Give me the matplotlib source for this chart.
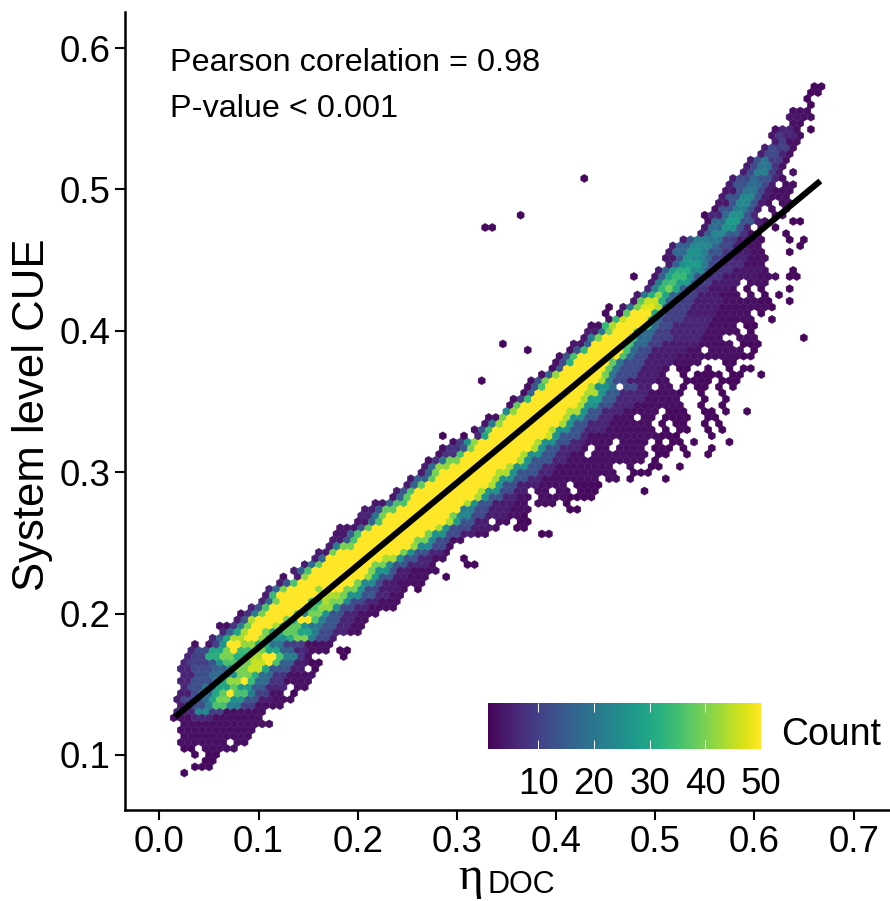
import math
import numpy as np
import matplotlib
matplotlib.use("Agg")
import matplotlib.pyplot as plt

plt.rcParams['font.family'] = ['Liberation Sans', 'DejaVu Sans']

# Hexagon rows, bottom to top. Each row: start, then (end, count) pairs.
# Edges are in units of 1/992 of eta; count 0 marks an empty stretch.
ROWS = [
[22,28,2],
[34,53,2],
[46,58,2],
[29,36,2,46,0,58,2],
[21,38,2,46,0,78,3],
[19,70,3,74,0,86,3],
[19,91,3],
[21,94,3],
[19,111,3],
[13,30,3,55,6,104,3],
[16,34,6,48,24,62,10,106,3],
[18,30,5,45,13,56,22,70,36,84,22,96,10,124,3],
[16,25,5,40,12,50,18,58,30,72,40,85,26,100,14,117,5,138,3],
[16,30,5,40,12,52,18,62,30,70,38,77,50,86,36,96,22,112,10,125,3,132,0,140,2],
[18,30,6,45,13,58,20,68,30,80,38,90,28,105,15,125,6,130,3,136,0,148,3],
[19,35,6,50,13,62,20,70,30,80,42,88,50,98,34,112,18,125,8,154,3],
[19,35,6,52,13,64,18,76,26,90,40,100,32,115,18,130,8,159,3],
[19,30,6,50,12,66,16,76,24,90,40,102,46,112,30,130,14,142,5,150,0,163,2],
[21,30,6,50,10,56,14,66,26,80,36,92,40,105,46,116,50,122,36,135,16,146,5,166,2],
[23,35,6,48,10,60,32,72,40,90,32,104,44,116,50,124,36,135,22,145,8,152,3,178,0,186,2],
[26,36,6,50,12,62,30,70,40,77,50,90,34,104,40,118,30,136,16,148,6,168,3,176,0,188,2],
[29,36,3,44,0,50,4,60,10,70,26,84,50,95,42,108,32,122,20,142,10,176,3],
[48,58,6,66,16,72,30,82,44,98,50,106,42,125,26,136,32,146,40,156,22,168,12,174,5],
[60,68,6,74,16,80,30,86,44,104,50,112,40,125,30,135,38,150,30,160,22,172,12,190,6,202,3],
[58,68,3,74,0,80,8,86,22,94,40,110,50,120,44,130,28,140,38,150,26,165,20,178,14,190,6,208,3],
[73,80,5,86,14,92,30,98,44,122,50,130,40,140,30,150,50,160,36,170,22,182,14,196,6,212,3],
[78,82,3,86,0,92,8,100,22,106,40,132,50,142,36,150,24,160,40,172,26,186,14,200,6,218,3],
[88,96,6,104,14,112,36,144,50,154,30,162,36,172,42,184,26,196,12,210,6,238,3],
[98,106,6,112,18,118,40,152,50,160,32,172,44,182,40,190,24,204,12,220,6,244,3],
[101,108,5,114,14,120,34,160,50,170,46,180,44,190,40,200,26,216,14,232,6,246,3],
[108,116,6,124,18,130,40,156,50,162,42,184,50,196,40,208,26,222,12,238,5,246,3,252,0,262,2],
[117,128,5,134,14,140,36,194,50,202,40,214,24,226,12,240,5,263,3],
[119,127,3,132,0,140,5,146,20,150,42,204,50,212,42,222,28,234,14,248,5,268,3,284,0,294,2],
[134,142,5,148,16,154,36,210,50,218,40,228,26,240,14,254,5,278,3],
[144,152,5,158,18,162,38,216,50,224,40,236,24,250,14,270,6,279,3,308,0,316,2],
[154,160,5,166,18,170,40,226,50,234,44,244,26,258,14,276,6,288,3,303,0,311,2],
[158,168,5,174,20,180,40,238,50,246,40,258,26,272,14,286,6,294,3],
[168,176,5,184,22,192,40,252,50,262,42,272,24,284,12,294,3],
[173,182,5,190,14,198,36,258,50,266,40,278,24,290,12,308,3],
[176,186,4,198,16,204,36,264,50,272,40,284,26,298,12,318,5,328,3,380,0,390,2],
[179,196,4,206,14,214,38,274,50,282,44,292,26,310,12,330,5,341,3,356,0,368,2],
[196,206,4,214,16,222,36,286,50,292,44,302,28,316,14,332,5,340,0,348,3,360,0,370,2],
[201,210,6,218,20,228,40,292,50,298,40,310,24,326,12,344,5,358,3,362,0,370,2],
[203,214,5,226,14,238,38,298,50,304,40,316,22,332,12,350,5,372,3,410,0,418,2],
[213,224,4,236,16,245,36,304,50,312,44,322,26,336,14,356,5,369,3,376,0,398,3,404,0,413,2],
[233,240,4,248,16,254,38,312,50,320,44,330,26,346,14,360,6,371,3,378,0,384,3,389,0,406,3,409,0,418,2,424,0,436,2],
[234,244,5,252,14,258,36,320,50,328,44,338,26,354,12,371,5,378,0,393,3,399,0,413,3,419,0,438,2,482,0,490,2],
[243,252,5,258,16,265,38,330,50,336,44,345,26,361,13,378,5,409,3,412,0,418,2,425,0,440,2],
[250,258,4,266,16,276,38,335,50,341,44,353,26,368,14,384,6,441,3,447,0,462,3,470,0,478,2,503,0,512,2],
[256,264,4,272,16,282,40,340,50,348,44,360,26,376,14,392,6,454,3,474,0,494,2],
[261,270,5,278,18,288,42,347,50,354,44,366,26,380,14,396,6,456,3,467,0,476,3,486,0,503,2,517,0,526,2],
[263,272,3,280,8,288,20,300,40,356,50,364,44,374,26,390,14,406,6,486,3,494,0,501,2],
[276,284,3,296,8,304,36,362,50,370,44,382,26,396,14,412,6,428,3,435,0,488,3,494,0,508,2,521,0,528,2,543,0,548,2],
[279,288,3,298,8,306,14,314,40,370,50,378,44,388,26,402,14,418,6,428,3,435,0,450,3,458,0,486,3,494,0,514,2,520,0,530,2,549,0,557,2],
[288,298,3,308,10,314,26,318,42,376,50,386,44,396,26,410,14,426,6,451,3,459,0,491,3,497,0,505,2,512,0,522,2,528,0,537,2,565,0,573,2],
[278,285,2,299,0,306,2,312,0,320,6,326,30,386,50,394,46,402,26,418,14,432,6,496,3,502,0,512,2,516,0,524,2,549,0,557,2],
[314,320,3,328,14,332,34,392,50,400,44,410,26,424,14,444,6,494,3,501,0,507,2,514,0,521,2,525,0,531,2,546,0,552,2,560,0,566,2],
[326,332,4,340,20,346,42,398,50,406,44,416,26,430,14,448,6,491,3,497,0,506,2,515,0,528,2,545,0,551,2,560,0,566,2],
[328,338,3,344,16,350,40,405,50,412,44,422,26,436,14,456,6,476,3,482,0,496,3,506,0,528,2,543,0,549,2,556,0,563,2],
[344,348,5,352,24,358,42,410,50,418,44,428,26,444,14,464,6,501,3,506,0,529,2,544,0,554,2,561,0,569,2,584,0,590,2],
[349,354,3,358,14,364,38,418,50,426,44,436,26,452,13,474,6,500,3,506,0,524,3,541,0,547,2,563,0,569,2],
[351,358,3,366,10,372,34,422,50,430,44,442,28,458,15,484,6,521,3,541,0,547,2,563,0,569,2],
[361,366,3,374,16,378,40,426,50,436,44,446,26,460,15,486,6,514,3,521,0,527,2,541,0,548,2,562,0,570,2],
[364,370,3,378,14,384,36,430,50,438,44,450,26,455,18,463,0,480,12,490,5,498,0,514,3,521,0,527,2,538,0,551,2,558,0,564,2,573,0,579,2],
[318,326,2,368,0,376,3,384,14,391,40,436,50,444,44,454,22,470,12,495,5,513,3,523,0,528,2,534,0,556,2,563,0,578,2],
[379,384,3,392,16,399,42,442,50,448,40,458,20,476,12,500,5,508,3,519,0,528,2,536,0,561,2,568,0,581,2,600,0,608,2],
[391,396,3,402,14,406,38,448,50,454,38,462,20,480,12,505,5,506,3,516,0,531,2,543,0,554,2,568,0,573,2,581,0,596,2],
[394,400,3,408,12,413,32,452,50,458,38,466,20,486,12,515,5,539,3,564,0,574,2],
[398,406,3,414,14,421,36,458,50,464,36,472,18,490,12,520,5,581,3,584,0,594,2],
[365,373,2,408,0,418,3,424,14,428,34,465,50,470,36,478,18,495,12,525,5,544,3,552,0,581,3,589,0,599,2],
[340,348,2,414,0,422,4,430,16,435,36,470,50,476,36,486,18,505,10,540,5,576,3,584,0,601,2],
[424,430,4,436,22,442,40,474,50,480,34,490,18,510,10,540,6,566,3,574,0,599,3,642,0,650,2],
[428,436,5,444,20,452,40,478,50,484,34,494,18,512,10,545,6,578,3,588,0,598,2],
[432,440,3,446,14,452,34,458,44,484,50,490,34,498,18,516,12,550,6,574,3,586,0,597,2],
[446,452,3,456,14,462,34,470,46,486,50,492,30,502,16,522,10,552,6,596,3,611,0,619,2],
[446,452,2,456,0,462,3,468,16,474,38,490,50,496,30,506,16,528,10,556,5,594,3,600,0,608,2],
[446,452,2,460,0,470,4,476,20,482,40,494,48,500,44,510,16,530,10,558,5,606,3,610,0,618,2],
[471,476,4,482,20,488,38,498,46,504,32,516,16,536,10,560,5,596,3,602,0,614,2,628,0,637,2],
[474,482,4,488,20,494,32,504,42,510,30,522,16,540,10,560,5,578,3,590,0,596,3,603,0,612,2,618,0,626,2],
[483,490,6,496,22,504,34,516,40,520,30,530,15,548,8,568,4,578,3,586,0,590,2,596,0,606,2,629,0,637,2],
[488,494,5,500,22,508,34,520,36,530,28,540,16,556,10,578,5,590,0,610,3],
[469,477,2,490,0,498,4,506,16,514,30,526,34,536,26,548,14,566,8,596,4,618,3,630,0,642,2],
[499,506,5,512,16,520,28,532,32,542,24,556,14,576,8,600,4,610,3,632,0,640,2],
[504,512,5,520,16,528,26,540,28,550,22,564,12,584,7,608,3],
[505,514,4,522,14,534,26,546,24,556,18,570,10,590,6,607,3],
[509,516,5,528,18,544,26,552,22,564,14,580,8,594,5,604,3,629,0,637,2],
[513,520,5,532,16,550,24,560,18,572,12,590,5,603,3,639,0,647,2],
[523,530,5,538,14,552,22,566,20,576,10,590,5,596,3,601,0,606,3,624,0,634,2,642,0,650,2],
[536,544,5,552,16,566,24,578,16,590,8,592,3,595,0,605,3,625,0,633,2],
[325,340,2,539,0,550,5,560,18,574,26,586,14,592,6,598,0,606,3,614,0,622,2],
[543,550,3,556,10,566,18,580,28,592,14,598,5,612,3,630,0,646,2],
[358,366,2,541,0,547,2,552,0,560,6,570,18,584,26,594,14,600,6,614,0,624,3],
[551,563,3,572,14,588,22,596,14,600,5,608,0,612,3,620,0,628,3],
[559,568,4,578,14,590,24,598,14,608,5,610,3,618,0,631,3],
[563,570,5,580,14,594,24,602,14,612,5,631,3],
[566,574,4,584,14,598,20,606,12,612,5,634,3],
[569,576,5,586,14,600,18,608,12,614,5,617,3,622,0,634,3],
[424,431,2,573,0,580,5,590,12,602,18,610,14,616,6,624,3],
[583,590,5,598,12,608,22,616,10,620,5,626,3,629,0,636,3],
[586,592,5,600,12,610,20,618,8,628,3],
[589,596,5,604,14,612,20,620,10,630,3],
[599,604,5,612,12,622,12,630,6,634,3],
[604,610,5,618,12,628,10,637,3],
[613,620,5,630,10,640,3],
[609,616,4,626,9,634,6,642,3],
[613,622,3,632,6,642,3,646,0,654,2],
[631,646,3],
[626,640,4,654,3],
[631,650,3],
[646,654,2],
[644,655,2],
[648,661,2],
[651,664,2],
]

FIT_X = [0.0158, 0.6664]
FIT_Y = [0.1269, 0.506]
X_TICKS = [0.0, 0.1, 0.2, 0.3, 0.4, 0.5, 0.6, 0.7]
Y_TICKS = [0.1, 0.2, 0.3, 0.4, 0.5, 0.6]
COUNT_TICKS = [10, 20, 30, 40, 50]
COUNT_RANGE = (1, 50)
STATS = ["Pearson corelation = 0.98", "P-value < 0.001"]

UNIT = 1 / 992
HEX_W = 7.08 * UNIT
HEX_DY = 6.13 / 1414
X0 = 25 * UNIT
Y0 = 0.08727

xs, ys, cs = [], [], []
for r, row in enumerate(ROWS):
    offset = 3.54 if r % 2 else 0.0
    start = row[0]
    for end, count in zip(row[1::2], row[2::2]):
        if count > 0:
            i0 = math.ceil((start - 25 - offset) / 7.08)
            i1 = math.ceil((end - 25 - offset) / 7.08)
            if i1 <= i0:
                i0 = round(((start + end) / 2 - 25 - offset) / 7.08)
                i1 = i0 + 1
            for i in range(i0, i1):
                xs.append(X0 + (i + offset / 7.08) * HEX_W)
                ys.append(Y0 + r * HEX_DY)
                cs.append(count)
        start = end

W, H = 890, 901
fig = plt.figure(figsize=(W / 100, H / 100), dpi=100)
ax = fig.add_axes([125 / W, (H - 810) / H, (889 - 125) / W, (810 - 12) / H])

nx, ny = 95, 60
xmin = X0 - 3 * HEX_W
ymin = Y0 - 2 * HEX_DY
hb = ax.hexbin(xs, ys, C=cs, reduce_C_function=np.max, gridsize=(nx, ny),
               extent=(xmin, xmin + nx * HEX_W, ymin, ymin + ny * 2 * HEX_DY),
               cmap='viridis', vmin=COUNT_RANGE[0], vmax=COUNT_RANGE[1],
               linewidths=0.3, edgecolors='face')
ax.plot(FIT_X, FIT_Y, color='black', lw=4.4, solid_capstyle='butt', zorder=3)

ax.set_xlim(-0.0346, 0.7356)
ax.set_ylim(0.0611, 0.6255)
ax.set_xticks(X_TICKS)
ax.set_yticks(Y_TICKS)
ax.set_xticklabels([f"{t:.1f}" for t in X_TICKS])
ax.set_yticklabels([f"{t:.1f}" for t in Y_TICKS])
ax.tick_params(length=7.2, width=1.5, labelsize=26.5, pad=3.5, colors='black')
for s in ('top', 'right'):
    ax.spines[s].set_visible(False)
for s in ('left', 'bottom'):
    ax.spines[s].set_linewidth(1.8)

ax.text(0.0108, 0.5837, STATS[0], fontsize=23.3, va='baseline', ha='left')
ax.text(0.0108, 0.5512, STATS[1], fontsize=23.3, va='baseline', ha='left')

fig.text(33 / W, 1 - 415 / H, "System level CUE", rotation=90, fontsize=31.5,
         ha='center', va='center')
fig.text(458 / W, 1 - 889 / H, "\u03b7", fontsize=34, family=['Liberation Serif', 'DejaVu Serif'],
         ha='left', va='baseline')
fig.text(488 / W, 1 - 893 / H, "DOC", fontsize=22, ha='left', va='baseline')

cax = fig.add_axes([488 / W, (H - 749) / H, (761 - 488) / W, (749 - 703) / H])
cb = fig.colorbar(hb, cax=cax, orientation='horizontal')
cb.set_ticks(COUNT_TICKS)
cb.outline.set_visible(False)
cb.solids.set_edgecolor('face')
cax.tick_params(axis='x', which='both', direction='in', top=True, bottom=True,
                length=6.5, width=0.7, color='white', labelsize=26.5, pad=13, labelcolor='black')
fig.text(781 / W, 1 - 745 / H, "Count", fontsize=27, ha='left', va='baseline')

fig.savefig("out.png", dpi=100)
